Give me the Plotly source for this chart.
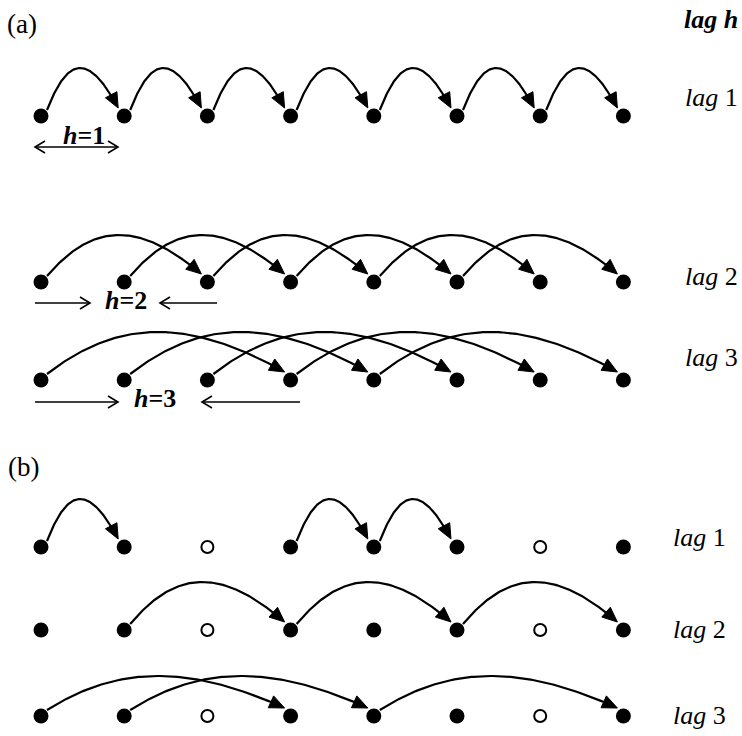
import numpy as np
import plotly.graph_objects as go

# ---- data -------------------------------------------------------------
n_obs = 8                                  # observations per row

# panel (a): complete series, pairs (s, s+lag)
a_lag1_src = [0, 1, 2, 3, 4, 5, 6]
a_lag2_src = [0, 1, 2, 3, 4, 5]
a_lag3_src = [0, 1, 2, 3, 4]

# panel (b): series with missing observations
b_missing = [2, 6]
b_lag1_src = [0, 3, 4]
b_lag2_src = [1, 3, 5]
b_lag3_src = [0, 1, 4]

row_labels_a = ["<i>lag</i> 1", "<i>lag</i> 2", "<i>lag</i> 3"]
row_labels_b = ["<i>lag</i> 1", "<i>lag</i> 2", "<i>lag</i> 3"]
lag_texts = ["<b><i>h</i>=1</b>", "<b><i>h</i>=2</b>", "<b><i>h</i>=3</b>"]

# ---- layout constants (pixel-space axes) -------------------------------
W, H = 742, 736
X0, DX = 41.0, 83.2
FONT = "Liberation Serif, Times New Roman, serif"

rows = [
    # (y, lag, sources, missing, arc height, label x, label y, label)
    (116, 1, a_lag1_src, [], 48, 683, 97, row_labels_a[0]),
    (282, 2, a_lag2_src, [], 47, 683, 276, row_labels_a[1]),
    (380, 3, a_lag3_src, [], 48, 683, 357, row_labels_a[2]),
    (547, 1, b_lag1_src, b_missing, 48, 671, 537, row_labels_b[0]),
    (630, 2, b_lag2_src, b_missing, 48, 671, 629, row_labels_b[1]),
    (716, 3, b_lag3_src, b_missing, 40, 671, 715, row_labels_b[2]),
]

fig = go.Figure()


def xpos(i):
    return X0 + i * DX


def arc(i, j, y, height):
    """Curved arrow from observation i to observation j on row y."""
    p0 = np.array([xpos(i) + 6, y - 6])
    p3 = np.array([xpos(j) - 6, y - 8])
    d = p3[0] - p0[0]
    k = (height - 1.75) / 0.75
    p1 = np.array([p0[0] + 0.3 * d, y - k])
    p2 = np.array([p3[0] - 0.4 * d, y - k])
    t = np.linspace(0, 1, 120)[:, None]
    pts = ((1 - t) ** 3) * p0 + 3 * ((1 - t) ** 2) * t * p1 \
        + 3 * (1 - t) * t ** 2 * p2 + t ** 3 * p3
    u = p3 - p2
    u = u / np.hypot(*u)
    L, w = 15.0, 6.5
    base = p3 - L * u
    perp = np.array([-u[1], u[0]])
    keep = np.hypot(pts[:, 0] - p3[0], pts[:, 1] - p3[1]) > L * 0.7
    line = np.vstack([pts[keep], base])
    fig.add_trace(go.Scatter(x=line[:, 0], y=line[:, 1], mode="lines",
                             line=dict(color="black", width=2.2),
                             hoverinfo="skip", showlegend=False))
    tri = np.array([p3, base + w * perp, base - w * perp, p3])
    fig.add_trace(go.Scatter(x=tri[:, 0], y=tri[:, 1], mode="lines",
                             fill="toself", fillcolor="black",
                             line=dict(color="black", width=1),
                             hoverinfo="skip", showlegend=False))


for (y, lag, srcs, missing, hgt, lx, ly, lab) in rows:
    for s in srcs:
        arc(s, s + lag, y, hgt)
    present = [i for i in range(n_obs) if i not in missing]
    fig.add_trace(go.Scatter(x=[xpos(i) for i in present], y=[y] * len(present),
                             mode="markers",
                             marker=dict(size=15, color="black"),
                             hoverinfo="skip", showlegend=False))
    if missing:
        fig.add_trace(go.Scatter(x=[xpos(i) for i in missing], y=[y] * len(missing),
                                 mode="markers",
                                 marker=dict(size=12, symbol="circle-open", color="black",
                                             line=dict(width=2)),
                                 hoverinfo="skip", showlegend=False))
    fig.add_annotation(x=lx, y=ly, text=lab, showarrow=False, xanchor="left",
                       yanchor="middle", font=dict(family=FONT, size=26, color="black"))


# distance markers under panel (a)
def head(xt, y, direction):
    xs = [xt - direction * 10, xt, xt - direction * 10]
    ys = [y - 6, y, y + 6]
    return xs, ys


def hline(xa, xb, y, heads):
    fig.add_trace(go.Scatter(x=[xa, xb], y=[y, y], mode="lines",
                             line=dict(color="black", width=1.6),
                             hoverinfo="skip", showlegend=False))
    for xt, dr in heads:
        hx, hy = head(xt, y, dr)
        fig.add_trace(go.Scatter(x=hx, y=hy, mode="lines",
                                 line=dict(color="black", width=1.6),
                                 hoverinfo="skip", showlegend=False))


hline(35, 118, 147, [(35, -1), (118, 1)])
hline(35, 90, 303, [(90, 1)])
hline(160, 217, 303, [(160, -1)])
hline(35, 118, 402, [(118, 1)])
hline(202, 300, 402, [(202, -1)])

for (tx, ty), txt in zip([(84, 135), (126, 300), (155, 398)], lag_texts):
    fig.add_annotation(x=tx, y=ty, text=txt, showarrow=False,
                       font=dict(family=FONT, size=26, color="black"))

fig.add_annotation(x=5, y=24, text="(a)", showarrow=False, xanchor="left",
                   font=dict(family=FONT, size=27, color="black"))
fig.add_annotation(x=6, y=467, text="(b)", showarrow=False, xanchor="left",
                   font=dict(family=FONT, size=27, color="black"))
fig.add_annotation(x=682, y=19, text="<b><i>lag h</i></b>", showarrow=False,
                   xanchor="left", font=dict(family=FONT, size=26, color="black"))

fig.update_layout(
    width=W, height=H,
    margin=dict(l=0, r=0, t=0, b=0),
    plot_bgcolor="white", paper_bgcolor="white",
    xaxis=dict(range=[0, W], visible=False, fixedrange=True),
    yaxis=dict(range=[H, 0], visible=False, fixedrange=True),
)

fig.write_html("out.html")
